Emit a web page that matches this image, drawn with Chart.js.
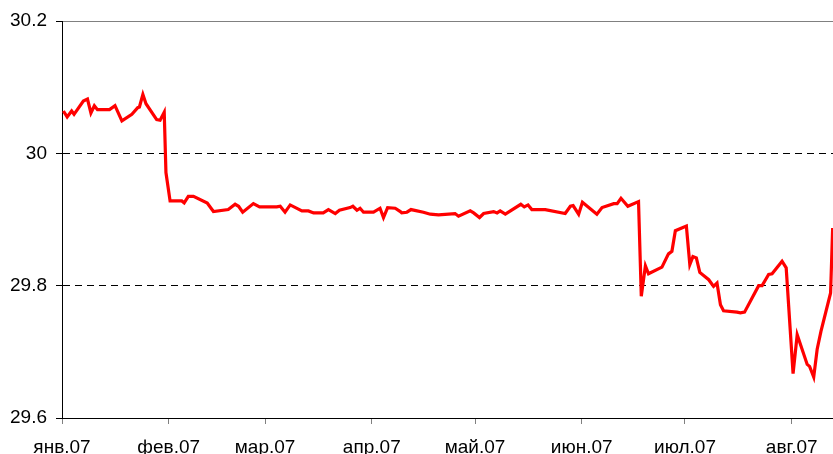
<!DOCTYPE html>
<html>
<head>
<meta charset="utf-8">
<script src="https://cdn.jsdelivr.net/npm/chart.js@4/dist/chart.umd.min.js"></script>
<style>
  html, body { margin: 0; padding: 0; background: #fff; }
  #wrap { width: 833px; height: 454px; }
</style>
</head>
<body>
<div id="wrap"><canvas id="rateChart" width="833" height="454"></canvas></div>
<script>
// days counted from 1 Jan 2007
const days = [
  0.4, 1.5, 2.8, 3.5, 6.2, 7.4, 8.4, 9.4, 10.3, 13.8, 15.4, 17.4, 20.3, 22.0, 22.5, 23.5, 24.4, 27.5, 28.5, 29.7,
  30.2, 31.4, 34.8, 35.5, 36.7, 38.2, 42.2, 44.0, 48.3, 50.3, 51.3, 52.5, 55.6, 57.4, 62.4, 63.4, 64.8, 66.3, 69.7, 71.6,
  73.1, 75.9, 77.4, 79.4, 80.6, 83.7, 84.5, 85.7, 86.6, 87.6, 90.5, 92.4, 93.4, 94.6, 96.8, 98.3, 98.7, 100.2, 101.4, 105.0,
  107.0, 109.4, 114.2, 115.2, 118.6, 119.6, 121.3, 122.5, 125.4, 126.4, 127.3, 128.8, 133.3, 134.3, 135.4, 136.5, 140.4, 146.2, 147.7, 148.5,
  150.1, 151.2, 155.4, 156.9, 160.3, 161.3, 162.4, 164.4, 167.5, 168.3, 169.5, 170.4, 174.3, 176.2, 177.2, 178.2, 181.4, 182.4, 183.3, 184.3,
  185.3, 187.9, 189.3, 190.3, 191.3, 192.2, 196.1, 197.1, 198.3, 202.4, 203.4, 204.4, 205.3, 206.3, 209.2, 210.4, 212.4, 213.6, 216.5, 217.2,
  218.4, 219.4, 220.5, 223.3, 223.9
];
const rates = [
  30.064, 30.055, 30.064, 30.059, 30.079, 30.082, 30.061, 30.072, 30.066, 30.066, 30.072, 30.049, 30.059, 30.069, 30.070, 30.089, 30.075, 30.051, 30.050, 30.062,
  29.971, 29.928, 29.928, 29.925, 29.935, 29.935, 29.925, 29.912, 29.915, 29.923, 29.920, 29.911, 29.924, 29.919, 29.919, 29.920, 29.911, 29.922, 29.913, 29.913,
  29.910, 29.910, 29.915, 29.909, 29.914, 29.918, 29.920, 29.914, 29.917, 29.911, 29.911, 29.917, 29.903, 29.918, 29.917, 29.912, 29.910, 29.911, 29.915, 29.911,
  29.908, 29.907, 29.909, 29.905, 29.913, 29.910, 29.903, 29.909, 29.912, 29.910, 29.913, 29.908, 29.923, 29.919, 29.922, 29.915, 29.915, 29.909, 29.920, 29.921,
  29.908, 29.926, 29.908, 29.918, 29.924, 29.924, 29.932, 29.920, 29.927, 29.784, 29.830, 29.818, 29.828, 29.848, 29.852, 29.883, 29.890, 29.832, 29.844, 29.842,
  29.820, 29.809, 29.799, 29.804, 29.771, 29.762, 29.760, 29.759, 29.760, 29.800, 29.800, 29.809, 29.817, 29.818, 29.837, 29.827, 29.667, 29.726, 29.681, 29.678,
  29.662, 29.704, 29.731, 29.789, 29.887
];

const monthStarts = [0, 31, 59, 90, 120, 151, 181, 212];
const monthLabels = ['янв.07', 'фев.07', 'мар.07', 'апр.07', 'май.07', 'июн.07', 'июл.07', 'авг.07'];
const yTicks = [29.6, 29.8, 30, 30.2];

const FONT = { family: '"Liberation Sans", Arial, sans-serif', size: 19 };

const points = days.map((d, i) => ({ x: d, y: rates[i] }));

new Chart(document.getElementById('rateChart').getContext('2d'), {
  type: 'line',
  data: {
    datasets: [{
      data: points,
      borderColor: '#ff0000',
      borderWidth: 3.2,
      pointRadius: 0,
      tension: 0,
      fill: false
    }]
  },
  options: {
    responsive: false,
    animation: false,
    layout: { padding: { top: 21, right: 0, bottom: 0, left: 0 } },
    plugins: {
      legend: { display: false },
      tooltip: { enabled: false }
    },
    scales: {
      x: {
        type: 'linear',
        min: 0,
        max: 224,
        afterBuildTicks: (scale) => {
          scale.ticks = monthStarts.map(v => ({ value: v }));
        },
        afterFit: (scale) => { scale.height = 36; },
        ticks: {
          autoSkip: false,
          maxRotation: 0,
          padding: 12,
          color: '#000',
          font: FONT,
          callback: (value, index) => monthLabels[index]
        },
        grid: {
          drawOnChartArea: false,
          drawTicks: true,
          tickLength: 6,
          tickColor: '#808080',
          tickWidth: 1
        },
        border: { display: true, color: '#000', width: 1 }
      },
      y: {
        min: 29.6,
        max: 30.2,
        afterBuildTicks: (scale) => {
          scale.ticks = yTicks.map(v => ({ value: v }));
        },
        afterFit: (scale) => { scale.width = 62; },
        ticks: {
          padding: 9,
          color: '#000',
          font: FONT,
          callback: (value) => String(Number(value.toFixed(1)))
        },
        grid: {
          tickLength: 6,
          tickColor: '#000',
          lineWidth: 1,
          color: (ctx) => {
            if (!ctx.tick) return '#000';
            if (ctx.tick.value === 29.6) return 'rgba(0,0,0,0)';
            if (ctx.tick.value === 30.2) return '#808080';
            return '#000';
          }
        },
        border: {
          display: true,
          color: '#000',
          width: 1,
          dash: (ctx) => (ctx.tick && ctx.tick.value !== 30.2 ? [7, 5] : [])
        }
      }
    }
  }
});
</script>
</body>
</html>
